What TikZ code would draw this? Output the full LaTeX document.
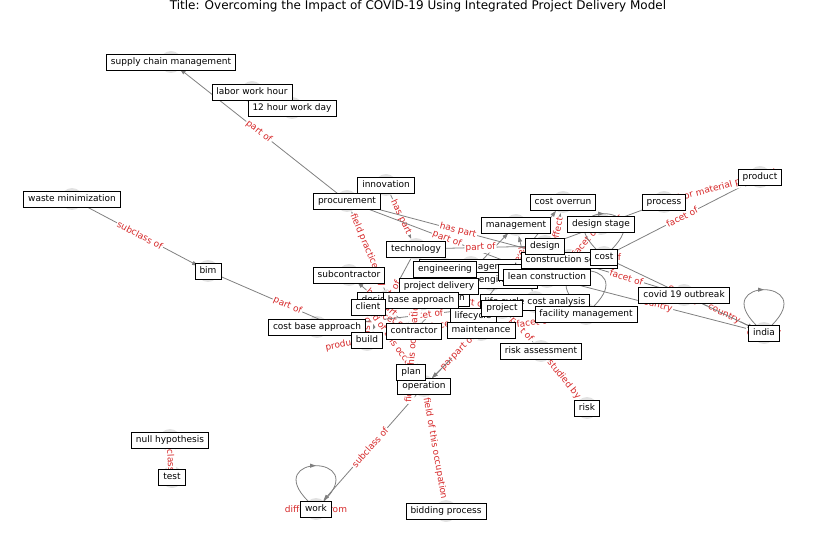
\documentclass[tikz,border=0pt]{standalone}
\usepackage{fontspec}
\setmainfont{DejaVu Sans}
\usetikzlibrary{arrows.meta,decorations.markings}

\definecolor{edgegray}{RGB}{128,128,128}
\definecolor{lblred}{RGB}{214,39,40}
\definecolor{vertgray}{RGB}{226,226,226}

\tikzset{
  vert/.style={circle,fill=vertgray,minimum size=16.5pt,inner sep=0pt},
  lbl/.style={draw=black,line width=0.6pt,fill=white,font=\fontsize{6.75}{8}\selectfont,
    inner xsep=3.4pt,inner ysep=2.6pt,text height=5.1pt,text depth=1.6pt},
  link/.style={draw=edgegray,line width=0.6pt,-{Triangle[length=4.5pt,width=3pt]}},
  loopline/.style={draw=edgegray,line width=0.6pt,postaction={decorate},
    decoration={markings,mark=at position 0.5 with {\arrow{Triangle[length=4.5pt,width=3pt]}}}},
  elabel/.style={text=lblred,font=\fontsize{6.75}{8}\selectfont,fill=white,inner sep=0.8pt,sloped}
}

\begin{document}
\begin{tikzpicture}[x=0.75pt,y=-0.75pt]
\useasboundingbox (0,0) rectangle (837,559);

%Title
\node[font=\fontsize{9}{11}\selectfont] (title) at (418,6) {Title: Overcoming the Impact of COVID-19 Using Integrated Project Delivery Model};

%Vertices
\node[vert] (scm) at (171,62) {};
\node[vert] (lwh) at (252,92) {};
\node[vert] (hwd) at (292,108) {};
\node[vert] (wm) at (72,199) {};
\node[vert] (bim) at (208,271) {};
\node[vert] (inno) at (386,185) {};
\node[vert] (proc) at (347,201) {};
\node[vert] (pm) at (471,267) {};
\node[vert] (veng) at (492,280) {};
\node[vert] (cbox) at (531,272) {};
\node[vert] (integ) at (440,298) {};
\node[vert] (dbb) at (389,300) {};
\node[vert] (lcca) at (535,302) {};
\node[vert] (csec) at (569,260) {};
\node[vert] (covr) at (563,202) {};
\node[vert] (dstage) at (601,224) {};
\node[vert] (process) at (664,202) {};
\node[vert] (product) at (760,177) {};
\node[vert] (mgmt) at (516,225) {};
\node[vert] (design) at (545,246) {};
\node[vert] (tech) at (416,249) {};
\node[vert] (eng) at (445,269) {};
\node[vert] (lc) at (547,277) {};
\node[vert] (sub) at (349,275) {};
\node[vert] (pd) at (439,286) {};
\node[vert] (ba) at (421,300) {};
\node[vert] (client) at (368,307) {};
\node[vert] (cba) at (317,327) {};
\node[vert] (build) at (367,340) {};
\node[vert] (contr) at (414,331) {};
\node[vert] (lcyc) at (473,316) {};
\node[vert] (project) at (502,308) {};
\node[vert] (maint) at (481,330) {};
\node[vert] (fm) at (586,314) {};
\node[vert] (ra) at (541,351) {};
\node[vert] (covid) at (684,295) {};
\node[vert] (india) at (764,333) {};
\node[vert] (risk) at (587,408) {};
\node[vert] (oper) at (424,386) {};
\node[vert] (plan) at (411,372) {};
\node[vert] (nh) at (170,440) {};
\node[vert] (test) at (172,477) {};
\node[vert] (work) at (316,509) {};
\node[vert] (bid) at (446,511) {};
\node[vert] (cost) at (604,257) {};

%Edges
\draw[link] (proc) -- node[elabel] {part of} (scm);
\draw[link] (wm) -- node[elabel] {subclass of} (bim);
\draw[link] (bim) -- node[elabel] {part of} (build);
\draw[link] (nh) -- node[elabel] {subclass of} (test);
\draw[link] (oper) -- node[elabel] {subclass of} (work);
\draw[link] (oper) -- node[elabel] {field of this occupation} (bid);
\draw[link] (ra) -- node[elabel] {studied by} (risk);
\draw[link] (covid) -- node[elabel] {country} (india);
\draw[link] (cost) -- node[elabel] {country} (india);
\draw[link] (lc) -- node[elabel] {country} (india);
\draw[link] (csec) -- node[elabel] {facet of} (covid);
\draw[link] (cost) -- node[elabel] {facet of} (product);
\draw[link] (process) -- node[elabel] {product or material produced} (product);
\draw[link] (design) -- node[elabel] {facet of} (process);
\draw[link] (csec) -- node[elabel] {facet of} (dstage);
\draw[link] (lc) -- node[elabel] {has effect} (covr);
\draw[link] (lcyc) -- node[elabel] {facet of} (covr);
\draw[link] (lcca) -- node[elabel] {facet of} (mgmt);
\draw[link] (contr) -- node[elabel] {part of} (mgmt);
\draw[link] (inno) -- node[elabel] {has part} (tech);
\draw[link] (proc) -- node[elabel] {has part} (csec);
\draw[link] (proc) -- node[elabel] {part of} (lc);
\draw[link] (tech) -- node[elabel] {part of} (design);
\draw[link] (dbb) -- node[elabel] {field practiced by} (proc);
\draw[link] (tech) -- node[elabel] {part of} (build);
\draw[link] (contr) -- node[elabel] {has part} (sub);
\draw[link] (client) -- node[elabel] {has part} (build);
\draw[link] (client) -- node[elabel] {facet of} (contr);
\draw[link] (build) -- node[elabel] {product or material produced} (contr);
\draw[link] (cba) -- node[elabel] {facet of} (lcca);
\draw[link] (oper) -- node[elabel] {field of this occupation} (client);
\draw[link] (contr) -- node[elabel] {field of this occupation} (plan);
\draw[link] (maint) -- node[elabel] {part of} (oper);
\draw[link] (project) -- node[elabel] {part of} (oper);
\draw[link] (project) -- node[elabel] {part of} (integ);
\draw[link] (project) -- node[elabel] {part of} (ra);
\draw[link] (maint) -- node[elabel] {facet of} (fm);

%Loops
\draw[loopline] (work) to[out=135,in=45,min distance=50pt] (work);
\draw[loopline] (india) to[out=135,in=45,min distance=50pt] (india);
\draw[loopline] (cost) to[out=135,in=45,min distance=50pt] (cost);
\draw[loopline] (fm) to[out=135,in=45,min distance=50pt] (fm);
\node[elabel] (lwork) at (work) {different from};
\node[elabel] (lindia) at (india) {country};
\node[elabel] (lcost) at (cost) {facet of};
\node[elabel] (lfm) at (fm) {part of};

%Labels
\node[lbl] at (scm) {supply chain management};
\node[lbl] at (lwh) {labor work hour};
\node[lbl] at (hwd) {12 hour work day};
\node[lbl] at (wm) {waste minimization};
\node[lbl] at (bim) {bim};
\node[lbl] at (inno) {innovation};
\node[lbl] at (proc) {procurement};
\node[lbl] at (pm) {project management};
\node[lbl] at (veng) {value engineering};
\node[lbl] at (cbox) {construction};
\node[lbl] at (integ) {integration};
\node[lbl] at (dbb) {design build};
\node[lbl] at (lcca) {life cycle cost analysis};
\node[lbl] at (csec) {construction sector};
\node[lbl] at (covr) {cost overrun};
\node[lbl] at (dstage) {design stage};
\node[lbl] at (process) {process};
\node[lbl] at (product) {product};
\node[lbl] at (mgmt) {management};
\node[lbl] at (design) {design};
\node[lbl] at (tech) {technology};
\node[lbl] at (eng) {engineering};
\node[lbl] at (lc) {lean construction};
\node[lbl] at (sub) {subcontractor};
\node[lbl] at (pd) {project delivery};
\node[lbl] at (ba) {base approach};
\node[lbl] at (client) {client};
\node[lbl] at (cba) {cost base approach};
\node[lbl] at (build) {build};
\node[lbl] at (contr) {contractor};
\node[lbl] at (lcyc) {lifecycle};
\node[lbl] at (project) {project};
\node[lbl] at (maint) {maintenance};
\node[lbl] at (fm) {facility management};
\node[lbl] at (ra) {risk assessment};
\node[lbl] at (covid) {covid 19 outbreak};
\node[lbl] at (india) {india};
\node[lbl] at (risk) {risk};
\node[lbl] at (oper) {operation};
\node[lbl] at (plan) {plan};
\node[lbl] at (nh) {null hypothesis};
\node[lbl] at (test) {test};
\node[lbl] at (work) {work};
\node[lbl] at (bid) {bidding process};
\node[lbl] at (cost) {cost};

\end{tikzpicture}
\end{document}
